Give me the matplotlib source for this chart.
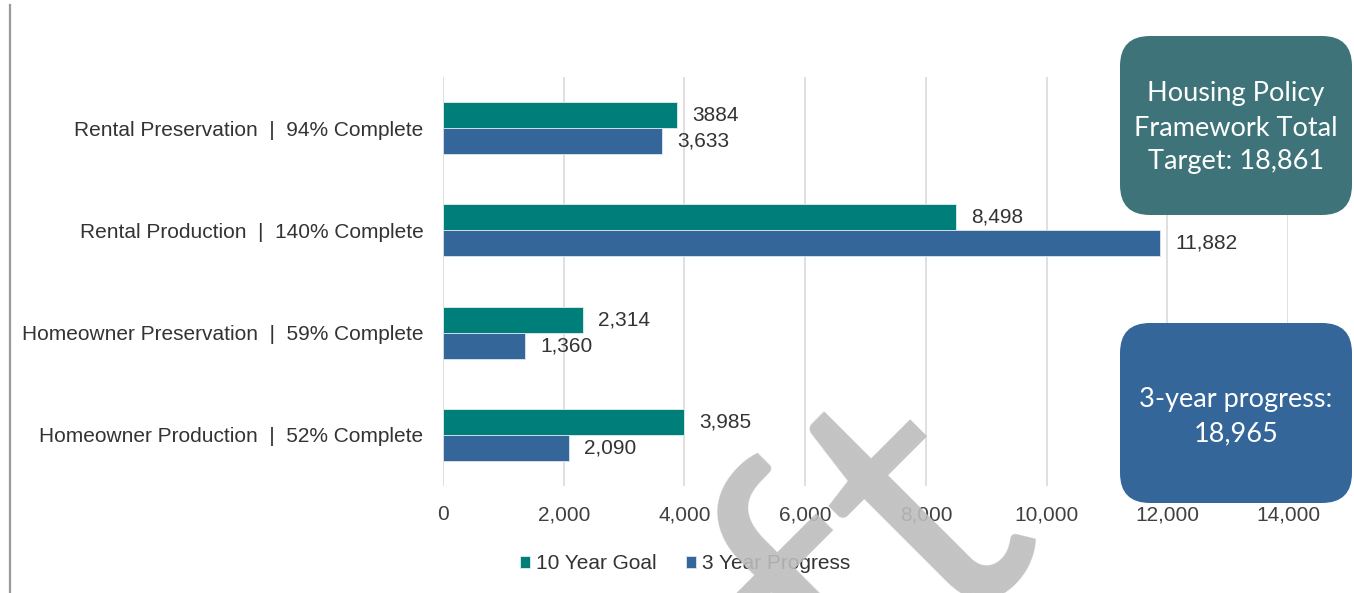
import numpy as np
import matplotlib.pyplot as plt
from matplotlib.patches import FancyBboxPatch
from matplotlib.lines import Line2D

# Housing policy framework: 10 year goals vs 3 year progress
categories = [
    "Rental Preservation  |  94% Complete",
    "Rental Production  |  140% Complete",
    "Homeowner Preservation  |  59% Complete",
    "Homeowner Production  |  52% Complete",
]
goal_10yr = [3884, 8498, 2314, 3985]
goal_labels = ["3884", "8,498", "2,314", "3,985"]
progress_3yr = [3633, 11882, 1360, 2090]
progress_labels = ["3,633", "11,882", "1,360", "2,090"]
x_ticks = [0, 2000, 4000, 6000, 8000, 10000, 12000, 14000]

teal = "#007f7a"
blue = "#346699"
box_teal = "#3e7479"
box_blue = "#346699"

plt.rcParams["font.family"] = ["Liberation Sans", "DejaVu Sans"]

fig = plt.figure(figsize=(13.54, 5.93), dpi=100)
ax = fig.add_axes([0.3272, 0.1804, 0.6241, 0.6898])

y = np.arange(len(categories))
h = 0.254
ax.barh(y - h / 2, goal_10yr, height=h, color=teal, edgecolor="#dff0ee",
        linewidth=0.6, label="10 Year Goal", zorder=2)
ax.barh(y + h / 2, progress_3yr, height=h, color=blue, edgecolor="#dde6f0",
        linewidth=0.6, label="3 Year Progress", zorder=2)

for yi, v, s in zip(y, goal_10yr, goal_labels):
    ax.annotate(s, (v, yi - h / 2), xytext=(11, 0), textcoords="offset points",
                va="center", ha="left", fontsize=15, color="#333333")
for yi, v, s in zip(y, progress_3yr, progress_labels):
    ax.annotate(s, (v, yi + h / 2), xytext=(11, 0), textcoords="offset points",
                va="center", ha="left", fontsize=15, color="#333333")

ax.set_xlim(0, 14000)
ax.set_ylim(len(categories) - 0.5, -0.5)
ax.set_yticks(y)
ax.set_yticklabels(categories, fontsize=15, color="#333333")
ax.set_xticks(x_ticks)
ax.set_xticklabels([f"{t:,}" for t in x_ticks], fontsize=15, color="#404040")
ax.tick_params(axis="both", length=0)
ax.tick_params(axis="x", pad=14)
ax.tick_params(axis="y", pad=14)
ax.grid(axis="x", color="#dadada", linewidth=1.2, zorder=0)
ax.set_axisbelow(True)
for sp in ax.spines.values():
    sp.set_visible(False)

fig.legend(loc="center", bbox_to_anchor=(0.506, 0.049), ncol=2, frameon=False,
           fontsize=15, handlelength=0.5, handleheight=0.5, handletextpad=0.28,
           columnspacing=1.4, labelcolor="#333333")

# summary boxes on the right (inch units keep the corners round)
for (bx, by, bw, bh), col in [((11.20, 3.78, 2.32, 1.79), box_teal),
                              ((11.20, 0.90, 2.32, 1.80), box_blue)]:
    fig.add_artist(FancyBboxPatch((bx, by), bw, bh,
                                  boxstyle="round,pad=0,rounding_size=0.3",
                                  transform=fig.dpi_scale_trans,
                                  facecolor=col, edgecolor="none", zorder=5))

fig.text(1236 / 1354, 1 - 128 / 593,
         "Housing Policy\nFramework Total\nTarget: 18,861",
         ha="center", va="center", color="white", fontsize=19.5,
         family="Lato", linespacing=1.45, zorder=6)
fig.text(1236 / 1354, 1 - 417 / 593, "3-year progress:\n18,965",
         ha="center", va="center", color="white", fontsize=19.5,
         family="Lato", linespacing=1.45, zorder=6)

# page rule on the left
fig.add_artist(Line2D([9.5 / 1354, 9.5 / 1354], [0, 1 - 5 / 593],
                      transform=fig.transFigure, color="#9a9a9a", linewidth=1.6))

# watermark
fig.text(1040 / 1354, 1 - 521 / 593, "Draft", rotation=45, rotation_mode="anchor",
         ha="right", va="baseline", fontsize=272,
         family="Lato", color="#bdbdbd", alpha=0.9, zorder=10)

fig.savefig("out.png", dpi=100)
